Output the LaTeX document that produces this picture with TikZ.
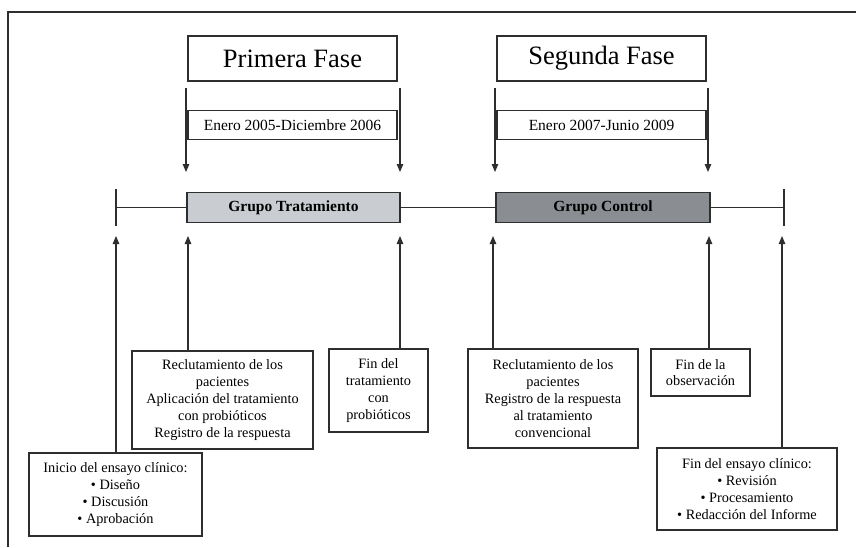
\documentclass[tikz,border=0pt]{standalone}
\usepackage{fontspec}
\setmainfont{Liberation Serif}
\usetikzlibrary{arrows.meta}
\definecolor{linec}{HTML}{2E2E2E}
\definecolor{lightg}{HTML}{C9CCD1}
\definecolor{darkg}{HTML}{8A8D92}
\tikzset{
  box/.style={draw=linec, line width=1.1pt, fill=white, inner sep=0pt, align=center, text=black},
  fase/.style={box, font=\fontsize{26.5}{30}\selectfont},
  fecha/.style={box, font=\fontsize{15.5}{18}\selectfont},
  grupo/.style={box, font=\bfseries\fontsize{15.5}{18}\selectfont},
  nota/.style={box, font=\fontsize{14.3}{16.8}\selectfont},
  arr/.style={draw=linec, line width=1.1pt, -{Triangle[length=8pt,width=6.5pt]}},
  ln/.style={draw=linec, line width=1.1pt}
}
\begin{document}
\begin{tikzpicture}[x=1pt,y=-1pt]
\useasboundingbox (0,0) rectangle (856,547);
% outer frame
\draw[ln] (8,547) -- (8,12) -- (856,12);
% phase headers
\node[fase, minimum width=209pt, minimum height=45pt] (f1) at (292.5,58.5) {Primera Fase};
\node[fase, minimum width=209pt, minimum height=45pt] (f2) at (601.5,58.5) {Segunda Fase};
\node[fecha, minimum width=209pt, minimum height=29pt] (d1) at (292.5,125) {Enero 2005-Diciembre 2006};
\node[fecha, minimum width=209pt, minimum height=29pt] (d2) at (601.5,125) {Enero 2007-Junio 2009};
% timeline groups
\node[grupo, fill=lightg, minimum width=213pt, minimum height=30pt] (gt) at (293.5,207.5) {Grupo Tratamiento};
\node[grupo, fill=darkg, minimum width=214pt, minimum height=30pt] (gc) at (603,207.5) {Grupo Control};
% timeline ticks
\coordinate (tl) at (116,207.5);
\coordinate (tr) at (784,207.5);
\coordinate (tlt) at (116,189);
\coordinate (tlb) at (116,226);
\coordinate (trt) at (784,189);
\coordinate (trb) at (784,226);
\draw[ln] (tlt) -- (tlb);
\draw[ln] (trt) -- (trb);
\draw[ln] (tl) -- (gt.west);
\draw[ln] (gt.east) -- (gc.west);
\draw[ln] (gc.east) -- (tr);
% down arrows
\coordinate (a1s) at (186,88);  \coordinate (a1e) at (186,172);
\coordinate (a2s) at (400,88);  \coordinate (a2e) at (400,172);
\coordinate (a3s) at (495,88);  \coordinate (a3e) at (495,172);
\coordinate (a4s) at (708,88);  \coordinate (a4e) at (708,172);
\draw[arr] (a1s) -- (a1e);
\draw[arr] (a2s) -- (a2e);
\draw[arr] (a3s) -- (a3e);
\draw[arr] (a4s) -- (a4e);
% bottom notes
\node[nota, minimum width=181pt, minimum height=98pt] (r1) at (222.5,400) {Reclutamiento de los\\pacientes\\Aplicación del tratamiento\\con probióticos\\Registro de la respuesta};
\node[nota, minimum width=99pt, minimum height=83pt] (ft) at (378.5,390.5) {Fin del\\tratamiento\\con\\probióticos};
\node[nota, minimum width=173pt, minimum height=83pt] (ini) at (115.5,494.5) {Inicio del ensayo clínico:\\• Diseño\\• Discusión\\• Aprobación};
\node[nota, minimum width=170pt, minimum height=99pt] (r2) at (553,398.5) {Reclutamiento de los\\pacientes\\Registro de la respuesta\\al tratamiento\\convencional};
\node[nota, minimum width=99pt, minimum height=47pt] (fo) at (700.5,372.5) {Fin de la\\observación};
\node[nota, minimum width=180pt, minimum height=82pt] (fe) at (747,489) {Fin del ensayo clínico:\\• Revisión\\• Procesamiento\\• Redacción del Informe};
% up arrows
\coordinate (u1) at (116,236);
\coordinate (u2) at (188,236);
\coordinate (u3) at (400,236);
\coordinate (u4) at (493,236);
\coordinate (u5) at (709,236);
\coordinate (u6) at (782,236);
\draw[arr] (ini.north -| u1) -- (u1);
\draw[arr] (r1.north -| u2) -- (u2);
\draw[arr] (ft.north -| u3) -- (u3);
\draw[arr] (r2.north -| u4) -- (u4);
\draw[arr] (fo.north -| u5) -- (u5);
\draw[arr] (fe.north -| u6) -- (u6);
\end{tikzpicture}
\end{document}
